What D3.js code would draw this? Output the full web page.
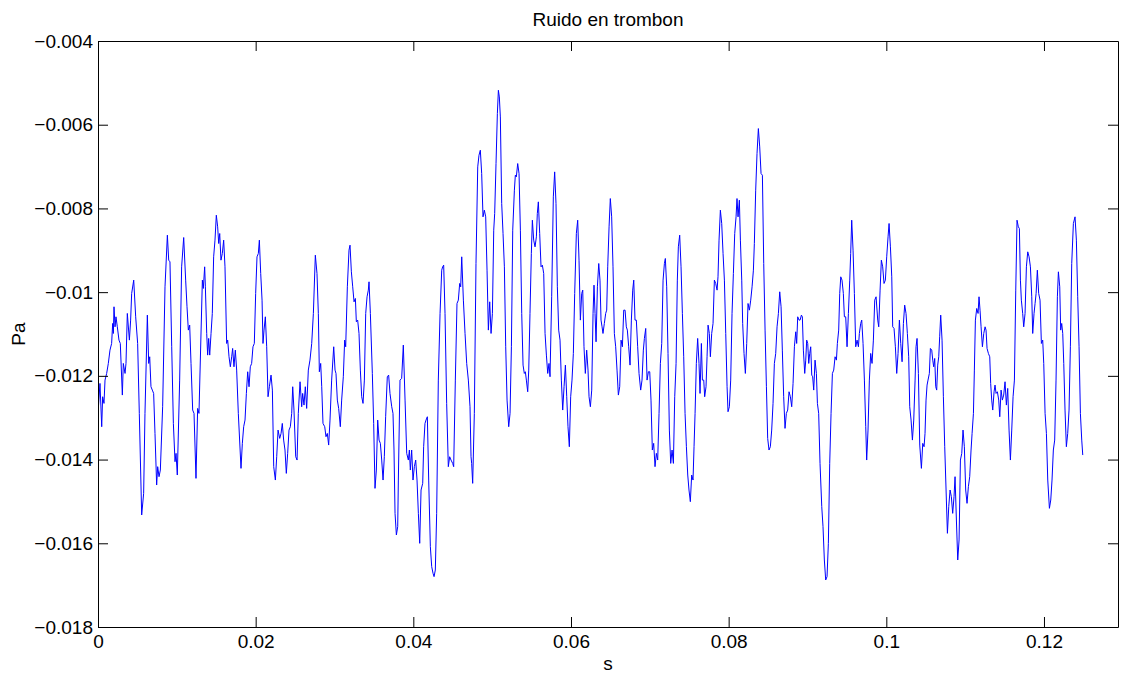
<!DOCTYPE html>
<html>
<head>
<meta charset="utf-8">
<title>Ruido en trombon</title>
<script src="https://cdn.jsdelivr.net/npm/d3@7"></script>
<style>
    html, body { margin: 0; padding: 0; background: #fff; }
    #chart { width: 1121px; height: 677px; }
    text { font-family: "Liberation Sans", Helvetica, Arial, sans-serif; fill: #000; }
</style>
</head>
<body>
<div id="chart"></div>
<script>
// Axis ticks and labels (as printed on the figure)
const xTicks = [0, 0.02, 0.04, 0.06, 0.08, 0.1, 0.12];
const xTickLabels = ["0", "0.02", "0.04", "0.06", "0.08", "0.1", "0.12"];
const yTicks = [-0.018, -0.016, -0.014, -0.012, -0.01, -0.008, -0.006, -0.004];
const yTickLabels = ["\u22120.018", "\u22120.016", "\u22120.014", "\u22120.012", "\u22120.01", "\u22120.008", "\u22120.006", "\u22120.004"];
const xLimits = [0, 0.12939];
const yLimits = [-0.018, -0.004];

// Pressure trace: [time (s), pressure (Pa)]
const samples = [
    [0.00000,-0.012900],[0.00025,-0.012181],[0.00047,-0.013215],[0.00059,-0.012499],[0.00076,-0.012658],
    [0.00089,-0.012101],[0.00110,-0.011942],[0.00131,-0.011703],[0.00152,-0.011385],[0.00173,-0.011226],
    [0.00186,-0.010748],[0.00195,-0.010987],[0.00203,-0.010350],[0.00216,-0.010828],[0.00228,-0.010589],
    [0.00245,-0.010828],[0.00266,-0.011146],[0.00283,-0.011226],[0.00309,-0.012459],[0.00321,-0.011703],
    [0.00343,-0.011942],[0.00355,-0.011703],[0.00372,-0.010509],[0.00398,-0.011146],[0.00414,-0.010668],
    [0.00427,-0.010032],[0.00453,-0.009713],[0.00478,-0.010589],[0.00503,-0.011226],[0.00524,-0.012897],
    [0.00554,-0.015324],[0.00579,-0.014807],[0.00596,-0.012897],[0.00626,-0.010549],[0.00643,-0.011703],
    [0.00656,-0.011544],[0.00672,-0.012260],[0.00689,-0.012340],[0.00706,-0.012420],[0.00723,-0.013375],
    [0.00744,-0.014608],[0.00757,-0.014170],[0.00774,-0.014409],[0.00791,-0.014250],[0.00820,-0.012738],
    [0.00850,-0.009873],[0.00880,-0.008639],[0.00897,-0.009236],[0.00913,-0.009276],[0.00935,-0.011305],
    [0.00956,-0.013136],[0.00977,-0.014051],[0.00990,-0.013852],[0.01006,-0.014369],[0.01036,-0.012101],
    [0.01061,-0.009395],[0.01087,-0.008695],[0.01112,-0.009713],[0.01129,-0.010350],[0.01146,-0.010907],
    [0.01163,-0.010788],[0.01180,-0.011703],[0.01201,-0.012817],[0.01218,-0.012897],[0.01243,-0.014449],
    [0.01264,-0.012778],
    [0.01281,-0.012897],[0.01324,-0.009713],[0.01336,-0.009912],[0.01353,-0.009395],[0.01362,-0.009873],
    [0.01379,-0.010987],[0.01391,-0.011504],[0.01404,-0.011106],[0.01417,-0.011504],[0.01434,-0.010987],
    [0.01450,-0.010509],[0.01467,-0.009156],[0.01484,-0.008758],[0.01501,-0.008162],[0.01518,-0.008440],
    [0.01531,-0.008838],[0.01544,-0.008599],[0.01560,-0.009236],[0.01577,-0.009077],[0.01594,-0.008758],
    [0.01611,-0.009395],[0.01632,-0.011226],[0.01645,-0.011146],[0.01662,-0.011544],[0.01679,-0.011783],
    [0.01696,-0.011544],[0.01708,-0.011345],[0.01725,-0.011783],[0.01742,-0.011385],[0.01759,-0.011862],
    [0.01780,-0.012897],[0.01814,-0.014210],[0.01831,-0.013613],[0.01848,-0.013215],[0.01865,-0.013056],
    [0.01882,-0.012420],[0.01899,-0.011902],[0.01916,-0.012260],[0.01932,-0.011783],[0.01949,-0.011703],
    [0.01966,-0.011305],[0.01983,-0.011226],[0.02000,-0.010032],[0.02017,-0.009156],[0.02034,-0.009077],
    [0.02047,-0.008758],[0.02064,-0.009554],[0.02081,-0.010191],[0.02093,-0.011226],[0.02106,-0.010907],
    [0.02123,-0.010589],[0.02140,-0.011305],[0.02157,-0.012499],[0.02174,-0.012260],[0.02195,-0.011982],
    [0.02212,-0.012340],[0.02229,-0.014170],[0.02250,-0.014489],[0.02267,-0.013932],[0.02284,-0.013295],
    [0.02305,-0.013494],[0.02322,-0.013375],[0.02338,-0.013136],[0.02355,-0.013534],[0.02372,-0.013772],
    [0.02389,-0.014330],[0.02406,-0.013852],[0.02423,-0.013295],[0.02440,-0.013215],[0.02457,-0.012897],
    [0.02470,-0.012260],[0.02486,-0.012817],[0.02508,-0.013932],[0.02525,-0.014011],
    [0.02541,-0.012897],[0.02563,-0.012141],[0.02584,-0.012738],[0.02596,-0.012420],[0.02613,-0.012698],
    [0.02630,-0.012260],[0.02647,-0.012778],[0.02668,-0.011862],[0.02689,-0.011624],[0.02711,-0.011226],
    [0.02732,-0.010509],[0.02757,-0.009117],[0.02778,-0.009554],[0.02795,-0.010509],[0.02808,-0.011902],
    [0.02825,-0.011703],[0.02838,-0.012260],[0.02854,-0.013136],[0.02876,-0.013215],[0.02892,-0.013454],
    [0.02909,-0.013375],[0.02926,-0.013653],[0.02943,-0.013056],[0.02964,-0.012101],[0.02990,-0.011305],
    [0.03007,-0.011862],[0.03019,-0.011942],[0.03036,-0.012579],[0.03053,-0.012778],[0.03074,-0.013215],
    [0.03091,-0.012579],[0.03112,-0.012021],[0.03129,-0.011146],[0.03142,-0.011305],[0.03163,-0.009873],
    [0.03184,-0.008997],[0.03197,-0.008878],[0.03214,-0.009514],[0.03231,-0.009873],[0.03248,-0.010231],
    [0.03265,-0.010151],[0.03277,-0.010708],[0.03294,-0.010668],[0.03311,-0.010987],[0.03328,-0.011862],
    [0.03345,-0.012499],[0.03362,-0.012658],[0.03379,-0.012101],[0.03396,-0.010509],[0.03413,-0.010111],
    [0.03429,-0.009952],[0.03438,-0.009753],[0.03455,-0.010509],[0.03480,-0.011942],[0.03497,-0.013136],
    [0.03514,-0.014688],[0.03531,-0.014250],[0.03548,-0.013056],[0.03565,-0.013534],[0.03582,-0.013613],
    [0.03599,-0.014011],[0.03616,-0.014489],[0.03632,-0.013932],[0.03649,-0.012977],[0.03670,-0.012021],
    [0.03687,-0.011982],[0.03704,-0.012420],[0.03726,-0.012738],[0.03742,-0.012897],[0.03755,-0.013772],
    [0.03768,-0.015285],[0.03785,-0.015802],[0.03802,-0.015603],
    [0.03810,-0.014489],[0.03831,-0.012101],[0.03852,-0.012061],[0.03873,-0.011265],[0.03895,-0.012579],
    [0.03916,-0.013852],[0.03937,-0.014011],[0.03950,-0.013772],[0.03962,-0.014250],[0.03979,-0.013772],
    [0.03996,-0.014489],[0.04013,-0.014170],[0.04030,-0.014011],[0.04047,-0.014489],[0.04064,-0.015285],
    [0.04081,-0.016001],[0.04098,-0.014727],[0.04119,-0.014568],[0.04131,-0.013693],[0.04148,-0.013136],
    [0.04161,-0.013056],[0.04178,-0.012977],[0.04195,-0.014489],[0.04216,-0.016081],[0.04233,-0.016558],
    [0.04250,-0.016717],[0.04263,-0.016797],[0.04279,-0.016638],[0.04296,-0.015285],[0.04317,-0.012101],
    [0.04339,-0.010509],[0.04360,-0.009475],[0.04372,-0.009395],[0.04385,-0.009355],[0.04402,-0.010509],
    [0.04423,-0.012658],[0.04444,-0.014170],[0.04461,-0.013932],[0.04478,-0.014011],[0.04499,-0.014091],
    [0.04512,-0.014170],[0.04533,-0.012101],[0.04554,-0.010271],[0.04571,-0.010191],[0.04588,-0.009793],
    [0.04601,-0.009873],[0.04614,-0.009156],[0.04635,-0.010191],[0.04656,-0.010987],[0.04677,-0.011703],
    [0.04698,-0.012101],[0.04719,-0.012738],[0.04732,-0.013932],[0.04740,-0.014091],[0.04753,-0.014568],
    [0.04774,-0.012897],[0.04795,-0.009316],[0.04817,-0.007007],[0.04833,-0.006729],[0.04850,-0.006609],
    [0.04867,-0.007167],[0.04884,-0.008201],[0.04901,-0.008042],[0.04918,-0.008201],[0.04935,-0.009475],
    [0.04952,-0.010907],[0.04969,-0.010231],[0.04986,-0.010987],[0.05003,-0.010509],[0.05020,-0.008520],
    [0.05032,-0.008122],[0.05049,-0.006928],[0.05066,-0.005734],[0.05079,-0.005177],
    [0.05091,-0.005336],[0.05104,-0.005814],[0.05121,-0.007883],[0.05138,-0.008599],[0.05155,-0.009395],
    [0.05172,-0.011305],[0.05189,-0.012579],[0.05210,-0.013215],[0.05227,-0.012897],[0.05244,-0.011305],
    [0.05261,-0.008520],[0.05282,-0.007564],[0.05294,-0.007206],[0.05307,-0.007246],[0.05324,-0.006928],
    [0.05341,-0.007167],[0.05358,-0.008520],[0.05375,-0.010509],[0.05392,-0.011743],[0.05408,-0.011942],
    [0.05421,-0.011902],[0.05434,-0.012101],[0.05451,-0.012380],[0.05464,-0.011862],[0.05480,-0.010509],
    [0.05497,-0.009077],[0.05510,-0.008281],[0.05527,-0.008758],[0.05544,-0.008918],[0.05561,-0.008679],
    [0.05573,-0.008122],[0.05586,-0.007843],[0.05603,-0.008599],[0.05620,-0.009395],[0.05637,-0.009355],
    [0.05654,-0.009554],[0.05671,-0.010987],[0.05688,-0.011504],[0.05705,-0.011942],[0.05721,-0.011703],
    [0.05734,-0.012021],[0.05755,-0.010111],[0.05776,-0.007724],[0.05793,-0.007127],[0.05810,-0.007883],
    [0.05827,-0.009873],[0.05844,-0.010907],[0.05861,-0.011146],[0.05878,-0.012101],[0.05895,-0.012817],
    [0.05912,-0.012260],[0.05929,-0.011743],[0.05946,-0.012499],[0.05962,-0.013215],[0.05979,-0.013693],
    [0.05996,-0.012499],[0.06013,-0.012101],[0.06030,-0.011464],[0.06047,-0.010032],[0.06068,-0.008599],
    [0.06085,-0.008281],[0.06102,-0.009236],[0.06119,-0.010668],[0.06136,-0.010032],[0.06149,-0.009952],
    [0.06165,-0.011305],[0.06182,-0.011942],[0.06199,-0.011385],[0.06216,-0.011862],[0.06229,-0.012499],
    [0.06246,-0.012738],[0.06263,-0.012340],[0.06280,-0.010509],[0.06292,-0.009833],[0.06305,-0.010509],
    [0.06318,-0.011186],[0.06335,-0.009873],[0.06352,-0.009316],[0.06368,-0.009713],
    [0.06381,-0.010668],[0.06394,-0.010828],[0.06406,-0.010987],[0.06423,-0.010748],[0.06440,-0.010509],
    [0.06453,-0.010430],[0.06466,-0.009395],[0.06483,-0.008440],[0.06499,-0.007764],[0.06516,-0.008201],
    [0.06533,-0.009395],[0.06550,-0.010987],[0.06567,-0.011305],[0.06584,-0.011862],[0.06601,-0.012459],
    [0.06618,-0.012260],[0.06635,-0.011146],[0.06652,-0.011305],[0.06669,-0.010430],[0.06686,-0.010430],
    [0.06702,-0.010828],[0.06715,-0.010907],[0.06732,-0.011305],[0.06749,-0.011743],[0.06766,-0.010668],
    [0.06783,-0.009952],[0.06796,-0.009713],[0.06812,-0.010668],[0.06829,-0.010668],[0.06846,-0.011305],
    [0.06863,-0.011942],[0.06884,-0.012340],[0.06901,-0.012101],[0.06918,-0.011385],[0.06931,-0.011106],
    [0.06948,-0.010867],[0.06965,-0.012101],[0.06982,-0.011902],[0.06999,-0.011902],[0.07015,-0.012579],
    [0.07032,-0.013772],[0.07049,-0.013613],[0.07066,-0.014170],[0.07083,-0.013852],[0.07100,-0.014011],
    [0.07117,-0.012897],[0.07134,-0.011703],[0.07151,-0.011226],[0.07168,-0.009713],[0.07185,-0.009316],
    [0.07197,-0.009196],[0.07214,-0.009873],[0.07231,-0.011464],[0.07248,-0.013295],[0.07265,-0.014091],
    [0.07282,-0.013772],[0.07299,-0.014091],[0.07316,-0.012499],[0.07333,-0.011703],[0.07349,-0.009713],
    [0.07362,-0.008918],[0.07379,-0.008639],[0.07396,-0.009395],[0.07413,-0.010509],[0.07430,-0.011544],
    [0.07447,-0.012897],[0.07464,-0.013693],[0.07481,-0.014369],[0.07497,-0.014727],[0.07514,-0.015006],
    [0.07531,-0.014369],[0.07548,-0.014489],[0.07561,-0.013693],[0.07574,-0.012897],[0.07590,-0.011703],
    [0.07607,-0.011106],[0.07624,-0.011703],[0.07637,-0.012420],
    [0.07654,-0.011226],[0.07667,-0.012101],[0.07684,-0.012101],[0.07696,-0.012499],[0.07713,-0.012260],
    [0.07726,-0.011544],[0.07739,-0.010788],[0.07755,-0.010987],[0.07768,-0.011544],[0.07785,-0.010987],
    [0.07802,-0.010748],[0.07819,-0.009713],[0.07836,-0.009793],[0.07853,-0.009952],[0.07865,-0.009634],
    [0.07878,-0.008758],[0.07895,-0.008042],[0.07912,-0.008360],[0.07929,-0.009077],[0.07946,-0.009713],
    [0.07963,-0.010987],[0.07980,-0.012260],[0.07992,-0.012857],[0.08009,-0.012738],[0.08026,-0.012101],
    [0.08043,-0.010509],[0.08060,-0.009554],[0.08077,-0.008599],[0.08094,-0.008201],[0.08106,-0.007764],
    [0.08119,-0.008201],[0.08136,-0.007803],[0.08149,-0.008758],[0.08166,-0.009713],[0.08178,-0.010748],
    [0.08195,-0.011464],[0.08212,-0.011942],[0.08229,-0.011226],[0.08246,-0.010271],[0.08263,-0.010430],
    [0.08280,-0.010191],[0.08297,-0.009873],[0.08314,-0.009475],[0.08326,-0.008838],[0.08343,-0.007564],
    [0.08360,-0.006689],[0.08377,-0.006092],[0.08394,-0.006530],[0.08411,-0.007167],[0.08428,-0.007206],
    [0.08445,-0.009316],[0.08462,-0.010907],[0.08479,-0.012260],[0.08495,-0.013494],[0.08512,-0.013772],
    [0.08529,-0.013693],[0.08546,-0.013295],[0.08563,-0.012658],[0.08580,-0.011703],[0.08597,-0.011464],
    [0.08614,-0.010828],[0.08631,-0.010509],[0.08648,-0.009992],[0.08665,-0.010350],[0.08681,-0.011385],
    [0.08698,-0.012499],[0.08715,-0.013255],[0.08732,-0.012897],[0.08749,-0.012817],[0.08766,-0.012380],
    [0.08783,-0.012499],[0.08800,-0.012738],[0.08817,-0.012181],[0.08834,-0.011305],[0.08851,-0.010947],
    [0.08863,-0.011226],[0.08876,-0.010589],[0.08893,-0.010668],
    [0.08906,-0.010668],[0.08923,-0.010549],[0.08935,-0.010589],[0.08948,-0.011385],[0.08965,-0.011942],
    [0.08978,-0.011624],[0.08990,-0.011146],[0.09003,-0.011226],[0.09016,-0.011703],[0.09028,-0.011464],
    [0.09041,-0.011305],[0.09054,-0.011982],[0.09066,-0.012021],[0.09079,-0.012340],[0.09096,-0.011624],
    [0.09113,-0.011942],[0.09126,-0.012658],[0.09142,-0.012897],[0.09159,-0.014091],[0.09181,-0.015125],
    [0.09197,-0.015603],[0.09214,-0.016399],[0.09231,-0.016877],[0.09248,-0.016797],[0.09265,-0.016001],
    [0.09282,-0.014091],[0.09299,-0.012897],[0.09316,-0.011942],[0.09333,-0.011862],[0.09350,-0.011544],
    [0.09367,-0.011624],[0.09379,-0.011226],[0.09396,-0.010907],[0.09409,-0.010032],[0.09422,-0.009634],
    [0.09438,-0.009713],[0.09455,-0.010032],[0.09468,-0.010589],[0.09485,-0.010589],[0.09502,-0.011305],
    [0.09519,-0.010509],[0.09536,-0.009713],[0.09548,-0.009077],[0.09561,-0.008281],[0.09578,-0.008997],
    [0.09595,-0.010032],[0.09612,-0.011305],[0.09629,-0.011146],[0.09646,-0.011305],[0.09658,-0.010987],
    [0.09675,-0.010748],[0.09688,-0.010668],[0.09705,-0.011226],[0.09722,-0.012101],[0.09739,-0.013215],
    [0.09751,-0.014011],[0.09768,-0.013295],[0.09785,-0.012101],[0.09802,-0.011464],[0.09819,-0.011703],
    [0.09836,-0.011146],[0.09853,-0.010191],[0.09870,-0.010111],[0.09891,-0.010668],[0.09904,-0.010828],
    [0.09921,-0.009952],[0.09937,-0.009236],[0.09954,-0.009395],[0.09971,-0.009793],[0.09988,-0.009713],
    [0.10005,-0.009156],[0.10022,-0.008679],[0.10035,-0.008360],[0.10052,-0.008918],[0.10069,-0.009634],
    [0.10081,-0.010828],[0.10098,-0.010867],[0.10115,-0.011305],[0.10132,-0.011942],[0.10149,-0.011464],
    [0.10166,-0.010668],
    [0.10183,-0.011226],[0.10200,-0.011663],[0.10217,-0.010748],[0.10233,-0.010310],[0.10250,-0.010509],
    [0.10267,-0.010987],[0.10284,-0.011544],[0.10297,-0.012738],[0.10314,-0.013056],[0.10331,-0.013534],
    [0.10348,-0.013056],[0.10365,-0.012101],[0.10377,-0.011305],[0.10390,-0.011106],[0.10407,-0.011942],
    [0.10424,-0.013653],[0.10445,-0.014210],[0.10462,-0.013613],[0.10479,-0.013693],[0.10491,-0.013375],
    [0.10504,-0.012579],[0.10517,-0.012220],[0.10529,-0.012101],[0.10546,-0.011942],[0.10559,-0.011345],
    [0.10576,-0.011385],[0.10589,-0.011624],[0.10601,-0.011783],[0.10614,-0.011584],[0.10627,-0.012260],
    [0.10639,-0.012340],[0.10652,-0.011743],[0.10665,-0.011544],[0.10677,-0.011066],[0.10690,-0.010549],
    [0.10707,-0.011146],[0.10724,-0.012499],[0.10741,-0.013693],[0.10758,-0.014727],[0.10775,-0.015762],
    [0.10792,-0.015125],[0.10809,-0.014727],[0.10825,-0.014887],[0.10842,-0.015285],[0.10859,-0.014887],
    [0.10872,-0.014409],[0.10889,-0.015444],[0.10906,-0.016399],[0.10923,-0.015921],[0.10940,-0.014011],
    [0.10957,-0.013852],[0.10973,-0.013295],[0.10990,-0.013693],[0.11007,-0.014727],[0.11024,-0.015046],
    [0.11041,-0.014648],[0.11058,-0.014409],[0.11075,-0.013772],[0.11088,-0.013375],[0.11105,-0.012897],
    [0.11117,-0.011862],[0.11130,-0.010668],[0.11147,-0.010390],[0.11164,-0.010509],[0.11176,-0.010111],
    [0.11189,-0.010430],[0.11202,-0.010828],[0.11219,-0.011305],[0.11236,-0.010987],[0.11253,-0.010828],
    [0.11265,-0.010907],[0.11278,-0.011345],[0.11295,-0.011464],[0.11312,-0.011544],[0.11324,-0.012181],
    [0.11337,-0.012579],[0.11350,-0.012817],[0.11367,-0.012380],[0.11379,-0.012220],[0.11392,-0.012420],
    [0.11409,-0.012380],[0.11426,-0.012579],
    [0.11439,-0.012977],[0.11456,-0.012340],[0.11472,-0.012579],[0.11489,-0.012459],[0.11506,-0.012141],
    [0.11523,-0.012698],[0.11540,-0.012300],[0.11557,-0.013295],[0.11574,-0.014011],[0.11591,-0.013295],
    [0.11608,-0.012499],[0.11625,-0.012101],[0.11642,-0.009952],[0.11658,-0.008281],[0.11675,-0.008440],
    [0.11688,-0.008480],[0.11701,-0.009713],[0.11713,-0.010191],[0.11730,-0.010509],[0.11743,-0.010828],
    [0.11760,-0.010509],[0.11777,-0.009395],[0.11794,-0.009037],[0.11811,-0.009156],[0.11828,-0.009395],
    [0.11845,-0.010111],[0.11857,-0.010987],[0.11874,-0.010509],[0.11887,-0.010271],[0.11900,-0.010032],
    [0.11916,-0.009475],[0.11933,-0.010032],[0.11950,-0.010191],[0.11967,-0.011226],[0.11984,-0.011146],
    [0.11997,-0.011703],[0.12014,-0.012897],[0.12031,-0.013375],[0.12048,-0.014489],[0.12069,-0.015165],
    [0.12086,-0.014966],[0.12102,-0.014489],[0.12119,-0.013772],[0.12136,-0.013534],[0.12153,-0.012101],
    [0.12170,-0.010111],[0.12183,-0.009514],[0.12200,-0.009873],[0.12212,-0.010907],[0.12225,-0.010748],
    [0.12238,-0.010987],[0.12251,-0.011703],[0.12267,-0.012817],[0.12284,-0.013693],[0.12301,-0.013375],
    [0.12318,-0.012817],[0.12335,-0.011305],[0.12352,-0.009316],[0.12373,-0.008360],[0.12394,-0.008201],
    [0.12411,-0.008758],[0.12428,-0.010111],[0.12445,-0.011305],[0.12462,-0.012897],[0.12479,-0.013534],
    [0.12492,-0.013892]
];

// Figure geometry (matches the MATLAB axes box)
const width = 1121;
const height = 677;
const margin = { top: 41, right: 3, bottom: 50, left: 98 };
const plotW = width - margin.left - margin.right;
const plotH = height - margin.top - margin.bottom;
const tickLen = 10;
const fontSize = 19;

const svg = d3.select("#chart").append("svg")
    .attr("width", width)
    .attr("height", height);

const x = d3.scaleLinear().domain(xLimits).range([0, plotW]);
const y = d3.scaleLinear().domain(yLimits).range([plotH, 0]);

const g = svg.append("g")
    .attr("transform", `translate(${margin.left},${margin.top})`);

// Clip the trace to the axes box
g.append("clipPath").attr("id", "plotClip")
    .append("rect").attr("width", plotW).attr("height", plotH);

// Signal
const line = d3.line()
    .x(d => x(d[0]))
    .y(d => y(d[1]));

g.append("path")
    .datum(samples)
    .attr("clip-path", "url(#plotClip)")
    .attr("fill", "none")
    .attr("stroke", "#0000ff")
    .attr("stroke-width", 1)
    .attr("stroke-linejoin", "round")
    .attr("d", line);

// Axes: bottom/left carry labels, top/right only inward ticks (MATLAB box style)
const xAxisBottom = d3.axisBottom(x).tickValues(xTicks)
    .tickSizeInner(-tickLen).tickSizeOuter(0).tickPadding(8)
    .tickFormat((d, i) => xTickLabels[i]);
const xAxisTop = d3.axisTop(x).tickValues(xTicks)
    .tickSizeInner(-tickLen).tickSizeOuter(0).tickFormat("");
const yAxisLeft = d3.axisLeft(y).tickValues(yTicks)
    .tickSizeInner(-tickLen).tickSizeOuter(0).tickPadding(5)
    .tickFormat((d, i) => yTickLabels[i]);
const yAxisRight = d3.axisRight(y).tickValues(yTicks)
    .tickSizeInner(-tickLen).tickSizeOuter(0).tickFormat("");

function styleAxis(sel) {
    sel.select(".domain").attr("stroke", "#000").attr("stroke-width", 1);
    sel.selectAll(".tick line").attr("stroke", "#000").attr("stroke-width", 1);
    sel.selectAll(".tick text")
        .attr("fill", "#000")
        .style("font-family", "'Liberation Sans', Helvetica, Arial, sans-serif")
        .style("font-size", fontSize + "px");
}

g.append("g").attr("transform", `translate(0,${plotH})`).call(xAxisBottom).call(styleAxis);
g.append("g").call(xAxisTop).call(styleAxis);
g.append("g").call(yAxisLeft).call(styleAxis);
g.append("g").attr("transform", `translate(${plotW},0)`).call(yAxisRight).call(styleAxis);

// Title and axis labels
svg.append("text")
    .attr("x", margin.left + plotW / 2)
    .attr("y", 26)
    .attr("text-anchor", "middle")
    .style("font-size", fontSize + "px")
    .text("Ruido en trombon");

svg.append("text")
    .attr("x", margin.left + plotW / 2)
    .attr("y", 670)
    .attr("text-anchor", "middle")
    .style("font-size", fontSize + "px")
    .text("s");

svg.append("text")
    .attr("transform", `translate(25,${margin.top + plotH / 2}) rotate(-90)`)
    .attr("text-anchor", "middle")
    .style("font-size", fontSize + "px")
    .text("Pa");
</script>
</body>
</html>
